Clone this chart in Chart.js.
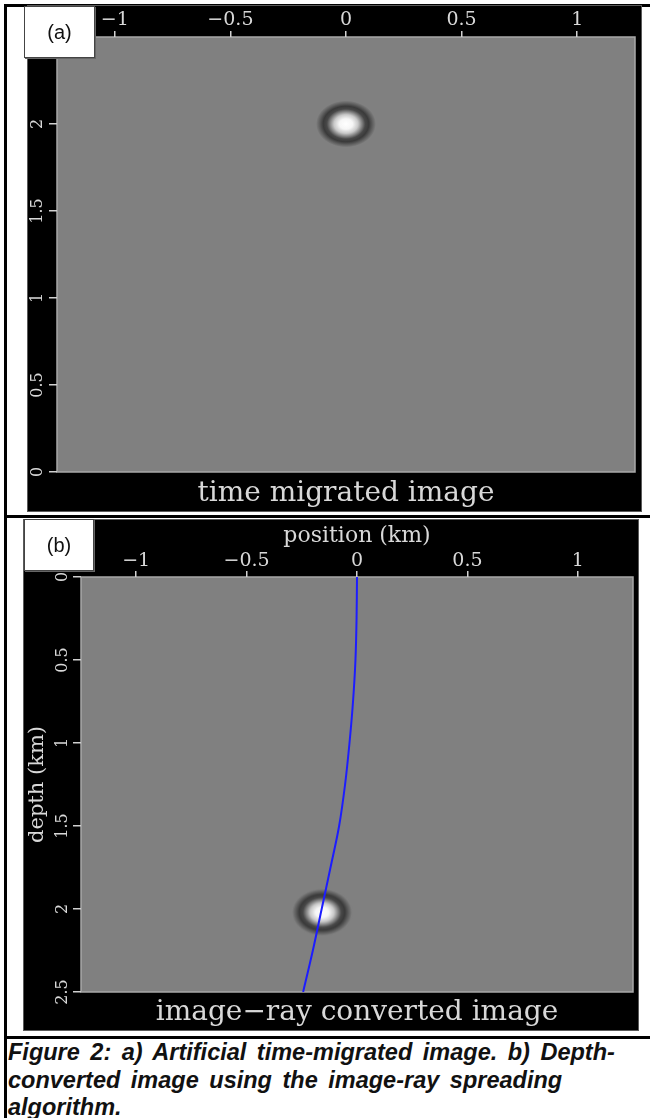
<!DOCTYPE html>
<html>
<head>
<meta charset="utf-8">
<script src="https://cdn.jsdelivr.net/npm/chart.js@4.4.1/dist/chart.umd.min.js"></script>
<style>
    body { margin: 0; background: #fff; width: 650px; height: 1118px; position: relative; overflow: hidden; }
    .rule { position: absolute; background: #000; }
    .panel { position: absolute; }
    .tag {
        position: absolute; background: #fff; box-sizing: border-box;
        border: 1px solid #444; box-shadow: 1px 1px 0 #666;
        font: 20px "Liberation Sans", Arial, sans-serif; color: #111;
        display: flex; align-items: center; justify-content: center;
    }
    .caption {
        position: absolute; left: 8px; top: 1039px;
        font: italic bold 23.5px "Liberation Sans", Arial, sans-serif;
        line-height: 27.5px; color: #111; white-space: nowrap;
        word-spacing: 4px;
    }
</style>
</head>
<body>
<div class="rule" style="left:4px; top:4px; width:646px; height:3px;"></div>
<div class="rule" style="left:4px; top:4px; width:3px; height:1114px;"></div>
<div class="rule" style="left:4px; top:515px; width:646px; height:3px;"></div>
<div class="rule" style="left:4px; top:1036px; width:646px; height:3px;"></div>

<div class="panel" style="left:27px; top:5px;"><canvas id="timeChart" width="615" height="507"></canvas></div>
<div class="panel" style="left:23px; top:519px;"><canvas id="depthChart" width="616" height="512"></canvas></div>

<div class="tag" style="left:24px; top:6px; width:71px; height:52px;">(a)</div>
<div class="tag" style="left:24px; top:519px; width:70px; height:52px;">(b)</div>

<div class="caption">Figure 2: a) Artificial time-migrated image. b) Depth-<br>converted image using the image-ray spreading<br>algorithm.</div>

<script>
// axis ticks
const xTickValues = [-1, -0.5, 0, 0.5, 1];
const xTickLabels = ['\u22121', '\u22120.5', '0', '0.5', '1'];
const timeTickValues = [0, 0.5, 1, 1.5, 2];
const timeTickLabels = ['0', '0.5', '1', '1.5', '2'];
const depthTickValues = [0, 0.5, 1, 1.5, 2, 2.5];
const depthTickLabels = ['0', '0.5', '1', '1.5', '2', '2.5'];

// spike in the time-migrated image (position km, time s)
const timeSpikeX = [0];
const timeSpikeT = [2.0];

// spike after depth conversion (position km, depth km)
const depthSpikeX = [-0.158];
const depthSpikeZ = [2.02];

// image ray traced down from the surface
const rayDepth = [0, 0.25, 0.5, 0.75, 1.0, 1.25, 1.5, 1.75, 2.0, 2.25, 2.5];
const rayPosition = [0, -0.002, -0.007, -0.018, -0.034, -0.054, -0.081, -0.12, -0.16, -0.2, -0.244];

const serif = "'DejaVu Serif', serif";
const labelColor = '#d8d8d8';

// the smeared spike, drawn as a point image
function makeSpike() {
    const c = document.createElement('canvas');
    c.width = 62;
    c.height = 48;
    const g = c.getContext('2d');
    g.translate(31, 24);
    g.scale(1, 0.78);
    const grad = g.createRadialGradient(0, 0, 0, 0, 0, 30);
    grad.addColorStop(0, '#ffffff');
    grad.addColorStop(0.22, '#f6f6f6');
    grad.addColorStop(0.4, '#c8c8c8');
    grad.addColorStop(0.52, '#888888');
    grad.addColorStop(0.64, '#484848');
    grad.addColorStop(0.76, '#3a3a3a');
    grad.addColorStop(0.88, '#5e5e5e');
    grad.addColorStop(1, '#808080');
    g.fillStyle = grad;
    g.beginPath();
    g.arc(0, 0, 30, 0, Math.PI * 2);
    g.fill();
    return c;
}
const spikeImg = makeSpike();

// black panel, gray image area and its light frame
const imageFrame = {
    id: 'imageFrame',
    beforeDraw(chart) {
        const { ctx, chartArea: a, width, height } = chart;
        ctx.save();
        ctx.fillStyle = '#000';
        ctx.fillRect(0, 0, width, height);
        ctx.strokeStyle = '#5a5a5a';
        ctx.lineWidth = 1;
        ctx.strokeRect(0.5, 0.5, width - 1, height - 1);
        ctx.fillStyle = '#808080';
        ctx.fillRect(a.left, a.top, a.right - a.left, a.bottom - a.top);
        ctx.strokeStyle = '#a8a8a8';
        ctx.lineWidth = 1.5;
        ctx.strokeRect(a.left, a.top, a.right - a.left, a.bottom - a.top);
        ctx.restore();
    }
};

function xScale(height, labelPad, title) {
    return {
        type: 'linear',
        position: 'top',
        min: -1.25,
        max: 1.25,
        afterFit: s => { s.height = height; },
        afterBuildTicks: s => { s.ticks = xTickValues.map(v => ({ value: v })); },
        border: { display: false },
        grid: { drawOnChartArea: false, drawTicks: true, tickLength: 6, color: '#d0d0d0', lineWidth: 1.5 },
        ticks: {
            color: labelColor,
            padding: labelPad,
            maxRotation: 0,
            font: { family: serif, size: 19, lineHeight: 1 },
            callback: (v, i) => xTickLabels[i]
        },
        title: title
    };
}

function yScale(width, values, labels, reverse, labelPad, title) {
    return {
        type: 'linear',
        position: 'left',
        min: 0,
        max: 2.5,
        reverse: reverse,
        afterFit: s => { s.width = width; },
        afterBuildTicks: s => { s.ticks = values.map(v => ({ value: v })); },
        border: { display: false },
        grid: { drawOnChartArea: false, drawTicks: true, tickLength: 8, color: '#d0d0d0', lineWidth: 1.5 },
        ticks: {
            color: labelColor,
            padding: labelPad,
            minRotation: 90,
            maxRotation: 90,
            crossAlign: 'center',
            font: { family: serif, size: 16, lineHeight: 1 },
            callback: (v, i) => labels[i]
        },
        title: title
    };
}

function panelTitle(text, padTop, padBottom) {
    return {
        display: true,
        text: text,
        position: 'bottom',
        fullSize: false,
        color: labelColor,
        font: { family: serif, size: 28, weight: 'normal', lineHeight: 1.2 },
        padding: { top: padTop, bottom: padBottom }
    };
}

new Chart(document.getElementById('timeChart'), {
    type: 'scatter',
    data: {
        datasets: [{
            data: timeSpikeX.map((x, i) => ({ x: x, y: timeSpikeT[i] })),
            pointStyle: spikeImg,
            pointRadius: 3
        }]
    },
    options: {
        responsive: false,
        animation: false,
        devicePixelRatio: 1,
        events: [],
        layout: { padding: { left: 0, right: 7, top: 0, bottom: 0 } },
        scales: {
            x: xScale(32, 1.5, { display: false }),
            y: yScale(30, timeTickValues, timeTickLabels, false, -1.7, { display: false })
        },
        plugins: {
            legend: { display: false },
            tooltip: { enabled: false },
            title: panelTitle('time migrated image', 4.6, 1.8)
        }
    },
    plugins: [imageFrame]
});

new Chart(document.getElementById('depthChart'), {
    type: 'scatter',
    data: {
        datasets: [{
            data: rayDepth.map((z, i) => ({ x: rayPosition[i], y: z })),
            showLine: true,
            borderColor: '#1c1cff',
            borderWidth: 2,
            pointRadius: 0,
            tension: 0.35,
            order: 1
        }, {
            data: depthSpikeX.map((x, i) => ({ x: x, y: depthSpikeZ[i] })),
            pointStyle: spikeImg,
            pointRadius: 3,
            order: 2
        }]
    },
    options: {
        responsive: false,
        animation: false,
        devicePixelRatio: 1,
        events: [],
        layout: { padding: { left: 0, right: 6, top: 0, bottom: 0 } },
        scales: {
            x: xScale(58, 0, {
                display: true,
                text: 'position (km)',
                color: labelColor,
                font: { family: serif, size: 22, lineHeight: 1.2 },
                padding: { top: 4, bottom: 0 }
            }),
            y: yScale(58, depthTickValues, depthTickLabels, true, -2.7, {
                display: true,
                text: 'depth (km)',
                color: labelColor,
                font: { family: serif, size: 21, lineHeight: 1.2 },
                padding: { top: 2.4, bottom: 0 }
            })
        },
        plugins: {
            legend: { display: false },
            tooltip: { enabled: false },
            title: panelTitle('image\u2212ray converted image', 4, 1.4)
        }
    },
    plugins: [imageFrame]
});
</script>
</body>
</html>
